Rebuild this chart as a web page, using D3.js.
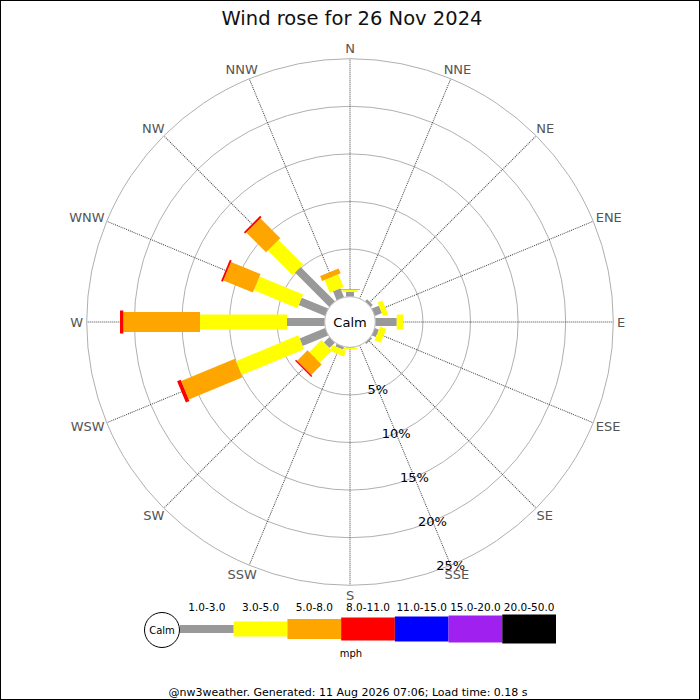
<!DOCTYPE html>
<html>
<head>
<meta charset="utf-8">
<script src="https://cdnjs.cloudflare.com/ajax/libs/d3/7.8.5/d3.min.js"></script>
<style>
  body { margin: 0; background: #fff; }
  text { font-family: "DejaVu Sans", sans-serif; }
</style>
</head>
<body>
<div id="d3-container"></div>
<script>
var width = 700;
var height = 700;
var cx = 350;
var cy = 322;

// Data: % of time per direction and speed band
var directions = ["N", "NNE", "NE", "ENE", "E", "ESE", "SE", "SSE",
                  "S", "SSW", "SW", "WSW", "W", "WNW", "NW", "NNW"];
var speedBands = ["1.0-3.0", "3.0-5.0", "5.0-8.0", "8.0-11.0", "11.0-15.0", "15.0-20.0", "20.0-50.0"];
var band1to3 = [0.5, 0, 0.3, 0.8, 2.25, 0.45, 0.2, 0, 0.05, 0.3, 0.8, 2.9, 3.96, 3.0, 5.1, 1.0];
var band3to5 = [0.2, 0, 0, 0.55, 0.7, 0.7, 0, 0, 0.15, 0.65, 1.8, 7.1, 9.14, 4.95, 3.65, 1.45];
var band5to8 = [0.1, 0, 0, 0, 0, 0, 0, 0, 0, 0, 1.55, 6.1, 8.05, 3.35, 2.95, 0.55];
var band8to11 = [0, 0, 0, 0, 0, 0, 0, 0, 0, 0, 0.15, 0.4, 0.35, 0.2, 0.2, 0];
var ringTicks = [5, 10, 15, 20, 25];

var bandColors = ["#999999", "#ffff00", "#ffa500", "#ff0000", "#0000ff", "#a020f0", "#000000"];
var bandWidths = [8, 15, 20, 23, 25, 27, 29];

var series = [band1to3, band3to5, band5to8, band8to11];

var svg = d3.select("#d3-container")
    .append("svg")
    .attr("width", width)
    .attr("height", height);

// frame
svg.append("rect")
    .attr("x", 0.5).attr("y", 0.5)
    .attr("width", width - 1).attr("height", height - 1)
    .attr("fill", "#fff")
    .attr("stroke", "#000");

svg.append("text")
    .attr("x", 352).attr("y", 25)
    .attr("text-anchor", "middle")
    .attr("font-size", "19.5px")
    .attr("fill", "#111")
    .text("Wind rose for 26 Nov 2024");

// radial scale, 0% sits on the calm circle
var rScale = d3.scaleLinear().domain([0, 25]).range([25.3, 263.3]);
var angleScale = d3.scaleLinear().domain([0, directions.length]).range([0, 360]);

var rose = svg.append("g").attr("transform", "translate(" + cx + "," + cy + ")");

// rings
rose.selectAll(".ring")
    .data(ringTicks)
    .enter()
    .append("circle")
    .attr("class", "ring")
    .attr("r", d => rScale(d))
    .attr("fill", "none")
    .attr("stroke", "#b0b0b0")
    .attr("stroke-width", 1);

// spokes
rose.selectAll(".spoke")
    .data(directions)
    .enter()
    .append("line")
    .attr("class", "spoke")
    .attr("transform", (d, i) => "rotate(" + angleScale(i) + ")")
    .attr("x1", 0).attr("y1", -rScale(0))
    .attr("x2", 0).attr("y2", -rScale(25))
    .attr("stroke", "#444")
    .attr("stroke-width", 1)
    .attr("stroke-dasharray", "1,1");

// bars, stacked outwards
directions.forEach(function(dir, i) {
    var cum = 0;
    var g = rose.append("g").attr("transform", "rotate(" + angleScale(i) + ")");
    series.forEach(function(vals, k) {
        var v = vals[i];
        if (v > 0) {
            g.append("rect")
                .attr("x", -bandWidths[k] / 2)
                .attr("y", -rScale(cum + v))
                .attr("width", bandWidths[k])
                .attr("height", rScale(cum + v) - rScale(cum))
                .attr("fill", bandColors[k]);
        }
        cum += v;
    });
});

// calm circle
rose.append("circle")
    .attr("r", rScale(0))
    .attr("fill", "#fff")
    .attr("stroke", "#bbb");
rose.append("text")
    .attr("y", 5)
    .attr("text-anchor", "middle")
    .attr("font-size", "13px")
    .attr("fill", "#000")
    .text("Calm");

// direction labels, pushed out by half their width
rose.selectAll(".dirLabel")
    .data(directions)
    .enter()
    .append("text")
    .attr("class", "dirLabel")
    .attr("font-size", "13px")
    .attr("fill", "#555")
    .attr("text-anchor", "middle")
    .text(d => d)
    .each(function(d, i) {
        var a = angleScale(i) * Math.PI / 180;
        var w = this.getComputedTextLength();
        var r = 267;
        var x = Math.sin(a) * r + Math.sin(a) * w / 2;
        var y = -Math.cos(a) * r - Math.cos(a) * 6.5;
        d3.select(this).attr("x", x).attr("y", y + 4.5);
    });

// percentage labels along SSE spoke
var labelAngle = angleScale(7) * Math.PI / 180;
rose.selectAll(".pctLabel")
    .data(ringTicks)
    .enter()
    .append("text")
    .attr("class", "pctLabel")
    .attr("font-size", "13px")
    .attr("fill", "#000")
    .attr("text-anchor", "middle")
    .attr("x", d => Math.sin(labelAngle) * rScale(d))
    .attr("y", d => -Math.cos(labelAngle) * rScale(d) + 5)
    .text(d => d + "%");

// legend
var legendX = d3.scaleBand().domain(speedBands).range([180, 556]);
var legend = svg.append("g");
legend.selectAll(".legBar")
    .data(speedBands)
    .enter()
    .append("rect")
    .attr("x", d => legendX(d))
    .attr("y", (d, i) => 629 - bandWidths[i] / 2)
    .attr("width", legendX.bandwidth())
    .attr("height", (d, i) => bandWidths[i])
    .attr("fill", (d, i) => bandColors[i]);
legend.selectAll(".legText")
    .data(speedBands)
    .enter()
    .append("text")
    .attr("x", d => legendX(d) + legendX.bandwidth() / 2)
    .attr("y", 611)
    .attr("text-anchor", "middle")
    .attr("font-size", "10.5px")
    .attr("fill", "#000")
    .text(d => d);
legend.append("circle")
    .attr("cx", 162).attr("cy", 630).attr("r", 17.5)
    .attr("fill", "#fff").attr("stroke", "#000");
legend.append("text")
    .attr("x", 162).attr("y", 634)
    .attr("text-anchor", "middle")
    .attr("font-size", "10px")
    .text("Calm");
legend.append("text")
    .attr("x", 351).attr("y", 657)
    .attr("text-anchor", "middle")
    .attr("font-size", "10px")
    .text("mph");

svg.append("text")
    .attr("x", 348).attr("y", 696)
    .attr("text-anchor", "middle")
    .attr("font-size", "11px")
    .attr("fill", "#000")
    .text("@nw3weather. Generated: 11 Aug 2026 07:06; Load time: 0.18 s");
</script>
</body>
</html>
